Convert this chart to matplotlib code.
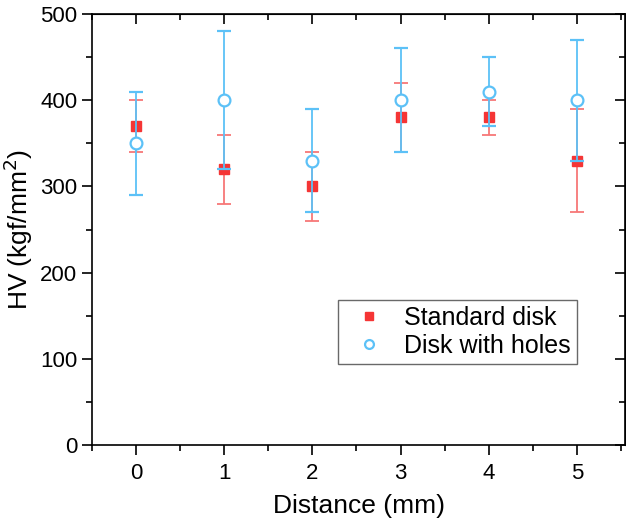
import matplotlib
matplotlib.use('Agg')
import matplotlib.pyplot as plt
import numpy as np

plt.rcParams['font.family'] = ['Liberation Sans', 'DejaVu Sans']

distance = [0, 1, 2, 3, 4, 5]
std_hv = [370, 320, 300, 380, 380, 330]
std_err = [30, 40, 40, 40, 20, 60]
holes_hv = [350, 400, 330, 400, 410, 400]
holes_err = [60, 80, 60, 60, 40, 70]

red = '#f53535'
red_bar = '#f77777'
blue = '#5cc1f7'

fig = plt.figure(figsize=(6.26, 5.28), dpi=100)
ax = fig.add_axes([0.147, 0.157, 0.852, 0.8165])

ax.errorbar(distance, std_hv, yerr=std_err, fmt='s', color=red, ecolor=red_bar,
            elinewidth=1.3, capsize=5, capthick=1.3, markersize=7.5,
            label='Standard disk', zorder=2)
ax.errorbar(distance, holes_hv, yerr=holes_err, fmt='o', color=blue, ecolor=blue,
            mfc='white', mec=blue, mew=1.6, elinewidth=1.3, capsize=5, capthick=1.3,
            markersize=8.5, label='Disk with holes', zorder=3)

ax.set_xlim(-0.5, 5.55)
ax.set_ylim(0, 500)
ax.set_xticks(distance)
ax.set_xticks(np.arange(-0.5, 5.6, 0.5), minor=True)
ax.set_yticks(np.arange(0, 501, 100))
ax.set_yticks(np.arange(0, 501, 50), minor=True)

ax.tick_params(which='both', direction='out', labelsize=16, width=1.2)
ax.tick_params(which='major', length=7)
ax.tick_params(which='minor', length=4)
ax.tick_params(axis='x', pad=6)
for sp in ax.spines.values():
    sp.set_linewidth(1.2)

# mirrored inward ticks on top and right
axt = ax.secondary_xaxis('top')
axt.set_xticks(distance)
axt.set_xticks(np.arange(-0.5, 5.6, 0.5), minor=True)
axt.tick_params(which='both', direction='in', labeltop=False, width=1.2)
axt.tick_params(which='major', length=7)
axt.tick_params(which='minor', length=4)
axr = ax.secondary_yaxis('right')
axr.set_yticks(np.arange(0, 501, 100))
axr.set_yticks(np.arange(0, 501, 50), minor=True)
axr.tick_params(which='both', direction='in', labelright=False, width=1.2)
axr.tick_params(which='major', length=7)
axr.tick_params(which='minor', length=4)

ax.set_xlabel('Distance (mm)', fontsize=19, labelpad=7)
ax.set_ylabel('HV (kgf/mm$^2$)', fontsize=19, labelpad=4)

handles, labels = ax.get_legend_handles_labels()
h2 = [h[0] for h in handles]
leg = ax.legend(h2, labels, loc='lower left', bbox_to_anchor=(0.461, 0.188),
                borderaxespad=0, fontsize=18, frameon=True, fancybox=False,
                edgecolor='#444444', markerscale=0.75, handlelength=2.0,
                handletextpad=0.4, borderpad=0.25, labelspacing=0.15)
leg.get_frame().set_linewidth(1.0)

fig.savefig('out.png', dpi=100)
